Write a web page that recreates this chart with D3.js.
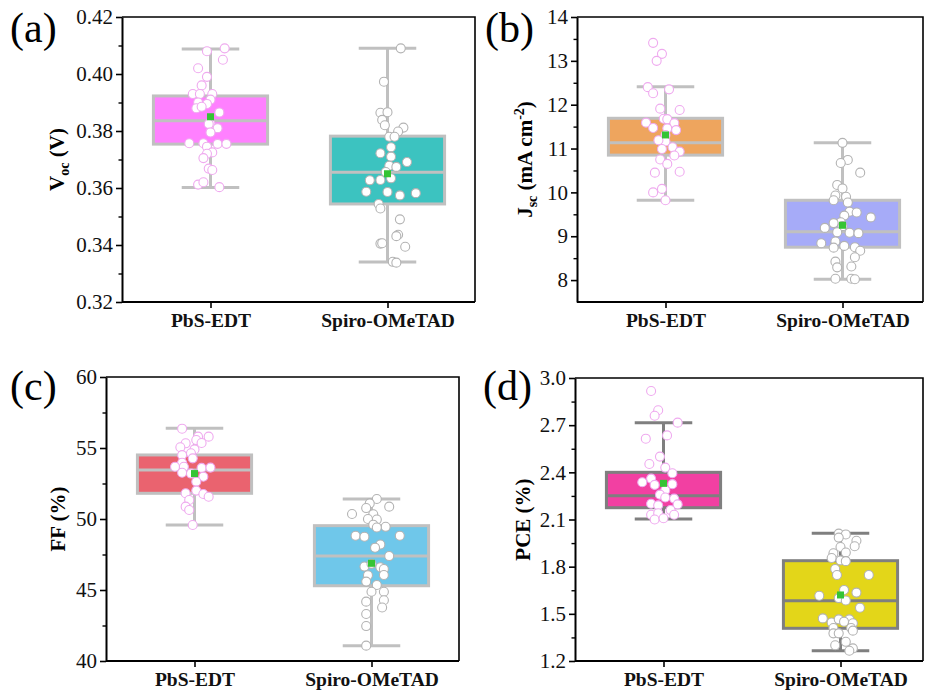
<!DOCTYPE html>
<html>
<head>
<meta charset="utf-8">
<script src="https://cdn.jsdelivr.net/npm/d3@7"></script>
<style>
  body { margin: 0; background: #fff; }
  svg, svg text { font-family: 'Liberation Serif', 'Times New Roman', serif; }
</style>
</head>
<body>
<script>
const categories = ['PbS-EDT', 'Spiro-OMeTAD']

// box stats per category: [whiskerLow, q1, median, q3, whiskerHigh, mean]
const vocBox = [[0.3602, 0.3754, 0.3836, 0.3923, 0.4088, 0.385], [0.3340, 0.3544, 0.3655, 0.3782, 0.4090, 0.3650]]
const jscBox = [[9.82, 10.85, 11.13, 11.69, 12.41, 11.31], [8.02, 8.75, 9.10, 9.82, 11.13, 9.25]]
const ffBox = [[49.58, 51.81, 53.45, 54.51, 56.39, 53.2], [41.08, 45.30, 47.39, 49.53, 51.41, 46.88]]
const pceBox = [[2.103, 2.175, 2.251, 2.400, 2.716, 2.33], [1.265, 1.408, 1.583, 1.838, 2.012, 1.62]]

// individual devices: [jitter offset (category units), value]
const vocPbs = [[-0.02, 0.408], [0.08, 0.409], [0.07, 0.405], [-0.07, 0.402], [-0.02, 0.399], [-0.05, 0.396],
  [-0.10, 0.393], [-0.06, 0.393], [0.01, 0.393], [0.0, 0.391], [-0.07, 0.390], [-0.02, 0.3895], [-0.08, 0.388],
  [-0.05, 0.3885], [0.05, 0.3865], [0.0, 0.3825], [-0.01, 0.3825], [0.04, 0.381], [0.0, 0.3795], [-0.12, 0.3757],
  [-0.04, 0.3757], [0.04, 0.3755], [0.09, 0.3755], [-0.02, 0.3745], [0.01, 0.3725], [-0.02, 0.372], [-0.04, 0.3705],
  [-0.01, 0.3668], [0.01, 0.3663], [-0.07, 0.3612], [-0.04, 0.362], [0.05, 0.3603]]
const vocSpiro = [[0.075, 0.409], [-0.02, 0.3973], [-0.04, 0.3864], [0.0, 0.3866], [-0.03, 0.3839], [-0.015, 0.382],
  [0.09, 0.3812], [0.06, 0.3798], [0.01, 0.378], [0.04, 0.378], [0.02, 0.3743], [-0.04, 0.3722], [0.02, 0.371],
  [0.11, 0.3691], [0.01, 0.3678], [0.05, 0.3674], [-0.01, 0.3656], [-0.10, 0.3627], [-0.04, 0.3628], [0.02, 0.3634],
  [-0.12, 0.3587], [0.0, 0.3586], [0.07, 0.3574], [0.16, 0.3582], [-0.05, 0.3544], [-0.04, 0.3528], [0.07, 0.349],
  [0.06, 0.3436], [0.05, 0.3431], [0.10, 0.3394], [-0.04, 0.3405], [-0.03, 0.3406], [0.03, 0.3341], [0.05, 0.3338]]

const jscPbs = [[-0.07, 13.41], [-0.02, 13.16], [-0.05, 13.0], [-0.10, 12.40], [-0.07, 12.26], [0.02, 12.35],
  [-0.03, 11.91], [0.08, 11.88], [-0.01, 11.68], [0.01, 11.67], [-0.11, 11.59], [0.05, 11.58], [-0.07, 11.47],
  [0.01, 11.46], [0.06, 11.42], [0.0, 11.31], [0.0, 11.16], [-0.04, 11.19], [-0.02, 10.99], [0.04, 11.03],
  [0.08, 10.93], [0.05, 10.84], [-0.03, 10.75], [0.01, 10.65], [-0.06, 10.45], [0.08, 10.47], [-0.02, 10.08],
  [-0.07, 10.0], [0.0, 9.82]]
const jscSpiro = [[0.0, 11.13], [0.03, 10.74], [-0.01, 10.67], [0.10, 10.45], [-0.03, 10.17], [0.0, 10.09],
  [-0.04, 9.93], [0.02, 9.90], [-0.05, 9.82], [0.03, 9.77], [0.04, 9.56], [0.08, 9.54], [0.16, 9.43], [0.01, 9.47],
  [-0.01, 9.32], [-0.05, 9.30], [-0.10, 9.19], [0.0, 9.23], [-0.03, 9.09], [0.04, 9.08], [0.09, 9.07], [-0.12, 8.84],
  [-0.04, 8.88], [0.01, 8.78], [0.07, 8.75], [-0.05, 8.74], [0.10, 8.67], [0.07, 8.52], [-0.04, 8.42], [-0.03, 8.29],
  [0.05, 8.31], [-0.04, 8.03], [0.05, 8.03], [0.07, 8.02]]

const ffPbs = [[-0.07, 56.36], [0.02, 55.8], [0.08, 55.8], [0.01, 55.56], [0.04, 55.35], [-0.05, 55.33], [-0.08, 55.05],
  [0.0, 54.9], [-0.02, 54.63], [-0.07, 54.5], [-0.01, 54.27], [-0.07, 53.96], [-0.11, 53.68], [-0.06, 53.68],
  [0.04, 53.6], [0.09, 53.62], [-0.07, 53.26], [-0.02, 53.2], [0.05, 52.98], [0.01, 52.63], [-0.05, 51.81],
  [0.01, 52.0], [0.05, 51.76], [0.08, 51.57], [-0.03, 51.34], [-0.05, 50.87], [-0.03, 50.63], [-0.01, 49.58]]
const ffSpiro = [[0.03, 51.41], [-0.01, 51.1], [0.10, 50.87], [-0.03, 50.77], [0.01, 50.33], [-0.11, 50.35],
  [0.03, 49.96], [-0.02, 50.0], [0.01, 49.6], [0.08, 49.45], [0.03, 49.4], [-0.09, 48.82], [-0.04, 48.75],
  [0.16, 48.82], [0.05, 48.2], [0.02, 47.98], [0.10, 47.39], [-0.04, 46.65], [0.0, 46.84], [0.05, 46.6],
  [0.07, 46.48], [0.07, 46.06], [-0.02, 46.04], [-0.03, 45.59], [0.03, 45.35], [0.0, 44.88], [0.07, 44.88],
  [-0.03, 44.18], [0.07, 44.28], [0.06, 43.77], [-0.03, 43.31], [-0.03, 42.46], [-0.03, 41.08]]

const pcePbs = [[-0.07, 2.917], [-0.03, 2.795], [-0.05, 2.76], [0.08, 2.716], [-0.10, 2.614], [0.02, 2.635],
  [-0.02, 2.50], [-0.08, 2.453], [0.01, 2.43], [0.05, 2.394], [-0.07, 2.36], [-0.12, 2.337], [-0.05, 2.32],
  [0.05, 2.325], [0.01, 2.286], [-0.02, 2.258], [0.01, 2.24], [0.06, 2.233], [-0.07, 2.20], [-0.03, 2.19],
  [0.08, 2.196], [0.04, 2.16], [0.06, 2.13], [-0.07, 2.13], [-0.03, 2.14], [-0.05, 2.10], [0.0, 2.108]]
const pceSpiro = [[-0.01, 2.01], [0.03, 2.005], [-0.01, 1.985], [0.09, 1.965], [0.08, 1.93], [0.0, 1.925],
  [-0.04, 1.885], [0.03, 1.89], [-0.05, 1.855], [0.0, 1.84], [0.03, 1.835], [-0.03, 1.785], [-0.02, 1.747],
  [0.16, 1.747], [0.02, 1.652], [0.09, 1.635], [-0.12, 1.615], [-0.01, 1.60], [0.03, 1.585], [0.11, 1.539],
  [-0.10, 1.471], [-0.05, 1.445], [-0.01, 1.465], [0.05, 1.465], [0.02, 1.45], [0.07, 1.44], [0.06, 1.41],
  [-0.04, 1.41], [0.07, 1.393], [-0.04, 1.376], [-0.01, 1.376], [0.03, 1.322], [-0.03, 1.30], [0.07, 1.28],
  [0.05, 1.265]]

// tick labels
const vocTicks = [0.32, 0.34, 0.36, 0.38, 0.40, 0.42]
const jscTicks = [8, 9, 10, 11, 12, 13, 14]
const ffTicks = [40, 45, 50, 55, 60]
const pceTicks = [1.2, 1.5, 1.8, 2.1, 2.4, 2.7, 3.0]

const panels = [
  { letter: '(a)', box: vocBox, points: [vocPbs, vocSpiro], ticks: vocTicks, domain: [0.32, 0.42], fmt: '.2f',
    fills: ['#ff80ff', '#3cc3c0'], edge: '#c0c0c0',
    left: 122, right: 475, top: 17, bottom: 302, titleX: 57, lx: 10, ly: 42, title: 'voc' },
  { letter: '(b)', box: jscBox, points: [jscPbs, jscSpiro], ticks: jscTicks, domain: [7.5, 14], fmt: 'd',
    fills: ['#eea55e', '#a6abf8'], edge: '#c0c0c0',
    left: 577, right: 923, top: 17, bottom: 302, titleX: 525, lx: 485, ly: 42, title: 'jsc' },
  { letter: '(c)', box: ffBox, points: [ffPbs, ffSpiro], ticks: ffTicks, domain: [40, 60], fmt: 'd',
    fills: ['#ea636f', '#6fc7ea'], edge: '#c0c0c0',
    left: 106, right: 459, top: 377, bottom: 661, titleX: 58, lx: 10, ly: 400, title: 'FF (%)' },
  { letter: '(d)', box: pceBox, points: [pcePbs, pceSpiro], ticks: pceTicks, domain: [1.2, 3.0], fmt: '.1f',
    fills: ['#f240a2', '#e3d619'], edge: '#7f7f7f',
    left: 575, right: 923, top: 378, bottom: 661, titleX: 523, lx: 483, ly: 400, title: 'PCE (%)' }
]

const W = 925, H = 697
const STEP = 177
const BOX_W = 0.645
const CAP_W = 0.325
const FONT = "'Liberation Serif', 'Times New Roman', serif"
const ptStroke = ['#efaaef', '#b3b3b3']

const svg = d3.select('body').append('svg')
  .attr('width', W)
  .attr('height', H)

panels.forEach(drawPanel)

function drawPanel(p) {
  const x = d3.scalePoint()
    .domain(categories)
    .range([p.left, p.left + 2 * STEP])
    .padding(0.5)
  const y = d3.scaleLinear().domain(p.domain).range([p.bottom, p.top])
  const g = svg.append('g')
  const bw = BOX_W * STEP
  const cw = CAP_W * STEP

  // boxes
  categories.forEach((c, i) => {
    const [lo, q1, med, q3, hi, mean] = p.box[i]
    const cx = x(c)
    const bg = g.append('g')
      .attr('stroke', p.edge)
      .attr('stroke-width', 3)
    bg.append('line').attr('x1', cx).attr('x2', cx).attr('y1', y(hi)).attr('y2', y(q3))
    bg.append('line').attr('x1', cx).attr('x2', cx).attr('y1', y(q1)).attr('y2', y(lo))
    bg.append('line').attr('x1', cx - cw / 2).attr('x2', cx + cw / 2).attr('y1', y(hi)).attr('y2', y(hi))
    bg.append('line').attr('x1', cx - cw / 2).attr('x2', cx + cw / 2).attr('y1', y(lo)).attr('y2', y(lo))
    bg.append('rect')
      .attr('x', cx - bw / 2)
      .attr('y', y(q3))
      .attr('width', bw)
      .attr('height', y(q1) - y(q3))
      .attr('fill', p.fills[i])
    bg.append('line').attr('x1', cx - bw / 2).attr('x2', cx + bw / 2).attr('y1', y(med)).attr('y2', y(med))

    g.selectAll(null)
      .data(p.points[i])
      .join('circle')
      .attr('cx', d => cx + d[0] * STEP)
      .attr('cy', d => y(d[1]))
      .attr('r', 4.5)
      .attr('fill', '#fff')
      .attr('stroke', ptStroke[i])
      .attr('stroke-width', 1.1)

    g.append('rect')
      .attr('x', cx - 3.5)
      .attr('y', y(mean) - 3.5)
      .attr('width', 7)
      .attr('height', 7)
      .attr('fill', '#35c435')
  })

  // frame
  g.append('path')
    .attr('d', `M${p.left},${p.top}H${p.right}V${p.bottom}`)
    .attr('fill', 'none')
    .attr('stroke', '#000')
    .attr('stroke-width', 1.6)

  const minor = d3.pairs(p.ticks).map(([a, b]) => (a + b) / 2)
  g.append('g')
    .attr('transform', `translate(${p.left},0)`)
    .call(d3.axisLeft(y).tickValues(minor).tickSize(3.5).tickFormat(''))
    .call(a => a.select('.domain').remove())
    .selectAll('line').attr('stroke-width', 1.4)

  const yAxis = g.append('g')
    .attr('transform', `translate(${p.left},0)`)
    .call(d3.axisLeft(y).tickValues(p.ticks).tickSize(6).tickSizeOuter(0).tickPadding(3).tickFormat(d3.format(p.fmt)))
    .attr('font-family', null)
  yAxis.select('.domain').attr('stroke-width', 2)
  yAxis.selectAll('line').attr('stroke-width', 1.6)
  yAxis.selectAll('text')
    .attr('font-size', 21)
    .attr('fill', '#111')
    .style('font-family', FONT)

  const xAxis = g.append('g')
    .attr('transform', `translate(0,${p.bottom})`)
    .call(d3.axisBottom(x).tickSize(6).tickSizeOuter(0).tickPadding(5))
    .attr('font-family', null)
  xAxis.select('.domain')
    .attr('d', `M${p.left},0H${p.right}`)
    .attr('stroke-width', 2)
  xAxis.selectAll('line').attr('stroke-width', 1.6)
  xAxis.selectAll('text')
    .attr('font-size', 19.5)
    .attr('font-weight', 'bold')
    .attr('fill', '#111')
    .style('font-family', FONT)

  // axis title
  const cy = (p.top + p.bottom) / 2
  const t = svg.append('text')
    .attr('transform', `translate(${p.titleX},${cy}) rotate(-90)`)
    .attr('text-anchor', 'middle')
    .attr('dy', '0.35em')
    .attr('font-size', 21)
    .attr('font-weight', 'bold')
    .style('font-family', FONT)
  if (p.title === 'voc') {
    t.append('tspan').text('V')
    t.append('tspan').attr('font-size', 14).attr('dy', 5).text('oc')
    t.append('tspan').attr('dy', -5).text(' (V)')
  } else if (p.title === 'jsc') {
    t.append('tspan').text('J')
    t.append('tspan').attr('font-size', 14).attr('dy', 5).text('sc')
    t.append('tspan').attr('dy', -5).text(' (mA cm')
    t.append('tspan').attr('font-size', 14).attr('dy', -8).text('-2')
    t.append('tspan').attr('dy', 8).text(')')
  } else {
    t.text(p.title)
  }

  svg.append('text')
    .attr('x', p.lx)
    .attr('y', p.ly)
    .attr('font-size', 42)
    .style('font-family', FONT)
    .text(p.letter)
}
</script>
</body>
</html>
